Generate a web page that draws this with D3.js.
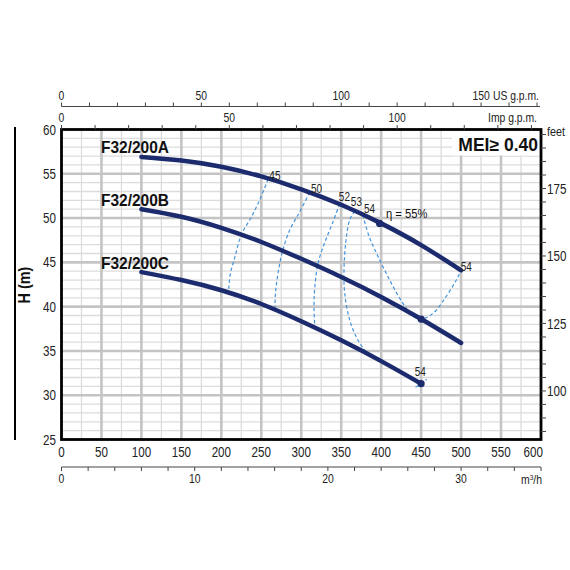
<!DOCTYPE html>
<html>
<head>
<meta charset="utf-8">
<script src="https://cdn.jsdelivr.net/npm/d3@7"></script>
<style>
  html, body { margin: 0; padding: 0; background: #fff; }
  svg { display: block; }
  text { font-family: "Liberation Sans", Arial, sans-serif; }
</style>
</head>
<body>
<svg id="chart" width="570" height="570"></svg>
<script>
// ---------------- data ----------------
// flow in l/min, head in m
const flowAB = [100, 150, 200, 250, 300, 350, 400, 450, 500];
const headA  = [56.9, 56.5, 55.8, 54.7, 53.25, 51.5, 49.4, 46.95, 44.1];
const headB  = [51.0, 50.15, 48.9, 47.3, 45.4, 43.35, 41.1, 38.6, 35.9];
const flowC  = [100, 150, 200, 250, 300, 350, 400, 450];
const headC  = [43.9, 43.0, 41.85, 40.3, 38.35, 36.2, 33.85, 31.3];
const pumpNames = ["F32/200A", "F32/200B", "F32/200C"];

// iso-efficiency curves [flow, head]
const eff45 = [[258.5,54.4],[248,52.05],[237.7,50.15],[225,48.1],[217,45.6],[211.5,43.8],[209,41.75]];
const eff50 = [[310.6,52.9],[298,50.7],[285.6,48.65],[277,46.4],[271,43.8],[267.7,41.5],[267,39.7]];
const eff52 = [[348,51.6],[339,49.4],[329,47.15],[321,44.9],[317,42.25],[316,40.0],[317,37.65]];
const eff53 = [[367,50.8],[360.6,49.8],[355.6,47.15],[353.5,44.1],[354.4,41.5],[360.6,38.5],[371,36.2],[383.5,34.6]];
const eff54 = [[377,50.35],[385,47.9],[398,45.3],[413,42.6],[427,40.4],[439.5,38.95],[450,38.6],[465,39.25],[481,41.1],[494,43.0],[500,44.1]];
const eff54c = [[443,30.9],[450,31.3],[457,31.8]];
const effLabels = [
  {t:"45", q:267, h:54.75}, {t:"50", q:319, h:53.3}, {t:"52", q:354, h:52.4},
  {t:"53", q:369, h:51.8}, {t:"54", q:385.5, h:51.1}, {t:"54", q:506.5, h:44.5},
  {t:"54", q:449, h:32.65}
];
const bepPoints = [[398,49.4],[450,38.6],[450,31.3]];
const etaLabel = {t:"η = 55%", q:406, h:50.6};
const meiText = "MEI≥ 0.40";

// axes
const qTicks = [0,50,100,150,200,250,300,350,400,450,500,550,600];
const hTicks = [25,30,35,40,45,50,55,60];
const feetTicks = [100,125,150,175];
const m3hTicks = [0,10,20,30];
const usTicks = [0,50,100,150];
const impTicks = [0,50,100];
const US_PER_LMIN = 1/3.5, IMP_PER_LMIN = 1/4.2, FT_PER_M = 3.28084, M3H_PER_LMIN = 0.06;

// ---------------- layout ----------------
const L = 61.5, T = 129.5, R = 541, B = 439.5;
const SX = 0.83; // condensed look
const svg = d3.select("#chart");
const x = d3.scaleLinear().domain([0, 600]).range([L, R]);
const y = d3.scaleLinear().domain([25, 60]).range([B, T]);
const xUS = d3.scaleLinear().domain([0, 600*US_PER_LMIN]).range([L, R]);
const xImp = d3.scaleLinear().domain([0, 600*IMP_PER_LMIN]).range([L, R]);
const xM3 = d3.scaleLinear().domain([0, 600*M3H_PER_LMIN]).range([L, R]);
const yFt = d3.scaleLinear().domain([25*FT_PER_M, 60*FT_PER_M]).range([B, T]);
const tr = (px, py) => `translate(${px},${py}) scale(${SX},1)`;

svg.append("rect").attr("width",570).attr("height",570).attr("fill","#fff");

// grid
const g = svg.append("g");
g.selectAll(".vmin").data(d3.range(25, 600, 50)).join("line")
  .attr("x1", d=>x(d)).attr("x2", d=>x(d)).attr("y1", T).attr("y2", B)
  .attr("stroke", "#dcdcdc").attr("stroke-width", 1.3);
g.selectAll(".hmin").data(d3.range(26, 60, 1).filter(d=>d%5)).join("line")
  .attr("x1", L).attr("x2", R).attr("y1", d=>y(d)).attr("y2", d=>y(d))
  .attr("stroke", "#dcdcdc").attr("stroke-width", 1.3);
g.selectAll(".vmaj").data(d3.range(50, 600, 50)).join("line")
  .attr("x1", d=>x(d)).attr("x2", d=>x(d)).attr("y1", T).attr("y2", B)
  .attr("stroke", "#c4c4c4").attr("stroke-width", 2.6);
g.selectAll(".hmaj").data(d3.range(30, 60, 5)).join("line")
  .attr("x1", L).attr("x2", R).attr("y1", d=>y(d)).attr("y2", d=>y(d))
  .attr("stroke", "#c4c4c4").attr("stroke-width", 2.6);

// MEI box
svg.append("rect").attr("x", 452).attr("y", T).attr("width", R-452).attr("height", 26).attr("fill", "#fff");
svg.append("text").attr("x", 538).attr("y", 150.5).attr("text-anchor","end")
  .attr("font-weight","bold").attr("font-size", 17.5).attr("fill","#111").text(meiText);

// frame
svg.append("rect").attr("x", L).attr("y", T).attr("width", R-L).attr("height", B-T)
  .attr("fill","none").attr("stroke","#000").attr("stroke-width", 2.8);

// left axis labels
svg.append("g").selectAll("text").data(hTicks).join("text")
  .attr("transform", d=>tr(56, y(d))).attr("dy","0.36em").attr("text-anchor","end")
  .attr("font-size", 14).attr("fill","#222").text(d=>d);
svg.append("line").attr("x1",15).attr("x2",15).attr("y1",127).attr("y2",440)
  .attr("stroke","#000").attr("stroke-width",2);
svg.append("text").attr("transform","translate(30,285) rotate(-90) scale(0.9,1)").attr("text-anchor","middle")
  .attr("font-weight","bold").attr("font-size",16).attr("fill","#111").text("H (m)");

// bottom l/min labels
svg.append("g").selectAll("text").data(qTicks).join("text")
  .attr("transform", (d,i)=> tr(i===qTicks.length-1 ? x(d)+2 : x(d), 457))
  .attr("text-anchor", (d,i)=> i===qTicks.length-1 ? "end" : "middle")
  .attr("font-size", 14).attr("fill","#222").text(d=>d);

// m3/h axis
const m3 = svg.append("g");
m3.append("line").attr("x1",L).attr("x2",R).attr("y1",467).attr("y2",467).attr("stroke","#444").attr("stroke-width",1);
m3.selectAll(".t").data(d3.range(0, 36.01, 2)).join("line")
  .attr("x1", d=>xM3(d)).attr("x2", d=>xM3(d)).attr("y1",467).attr("y2",471)
  .attr("stroke","#444").attr("stroke-width",1);
m3.selectAll(".l").data(m3hTicks).join("text")
  .attr("transform", d=>tr(xM3(d), 483)).attr("text-anchor","middle")
  .attr("font-size", 12.5).attr("fill","#222").text(d=>d);
m3.append("text").attr("transform", tr(542, 484)).attr("text-anchor","end")
  .attr("font-size", 12.5).attr("fill","#222").html("m<tspan dy='-4' font-size='8'>3</tspan><tspan dy='4'>/h</tspan>");

// US gpm axis
const us = svg.append("g");
us.append("line").attr("x1",L).attr("x2",R-1).attr("y1",106.5).attr("y2",106.5).attr("stroke","#444").attr("stroke-width",1);
us.selectAll(".t").data(d3.range(0, 171, 10)).join("line")
  .attr("x1", d=>xUS(d)).attr("x2", d=>xUS(d)).attr("y1",106.5).attr("y2",102.5)
  .attr("stroke","#444").attr("stroke-width",1);
us.selectAll(".l").data(usTicks).join("text")
  .attr("transform", d=>tr(xUS(d), 100)).attr("text-anchor","middle")
  .attr("font-size", 12.5).attr("fill","#222").text(d=>d);
us.append("text").attr("transform", tr(539, 100)).attr("text-anchor","end")
  .attr("font-size", 12.5).attr("fill","#222").text("US g.p.m.");

// Imp gpm axis (on top of frame)
const imp = svg.append("g");
imp.selectAll(".t").data(d3.range(0, 142, 10)).join("line")
  .attr("x1", d=>xImp(d)).attr("x2", d=>xImp(d)).attr("y1",T).attr("y2",T-4.5)
  .attr("stroke","#444").attr("stroke-width",1);
imp.selectAll(".l").data(impTicks).join("text")
  .attr("transform", d=>tr(xImp(d), 122)).attr("text-anchor","middle")
  .attr("font-size", 12.5).attr("fill","#222").text(d=>d);
imp.append("text").attr("transform", tr(537, 122)).attr("text-anchor","end")
  .attr("font-size", 12.5).attr("fill","#222").text("Imp g.p.m.");

// feet axis
const ft = svg.append("g");
ft.selectAll(".t").data(d3.range(85, 196, 5)).join("line")
  .attr("x1", R).attr("x2", R+5).attr("y1", d=>yFt(d)).attr("y2", d=>yFt(d))
  .attr("stroke","#444").attr("stroke-width",1);
ft.selectAll(".l").data(feetTicks).join("text")
  .attr("transform", d=>tr(R+6, yFt(d))).attr("dy","0.36em")
  .attr("font-size", 14).attr("fill","#222").text(d=>d);
ft.append("text").attr("transform", tr(R+6, yFt(195))).attr("dy","0.1em")
  .attr("font-size", 13).attr("fill","#222").text("feet");

// iso-efficiency dashed curves
const effLine = d3.line().x(d=>x(d[0])).y(d=>y(d[1])).curve(d3.curveCatmullRom.alpha(0.5));
svg.append("g").selectAll("path").data([eff45, eff50, eff52, eff53, eff54, eff54c]).join("path")
  .attr("d", effLine).attr("fill","none").attr("stroke","#4594dc")
  .attr("stroke-width",1.2).attr("stroke-dasharray","3.5,2.5");

// pump curves
const pumpLine = d3.line().x(d=>x(d[0])).y(d=>y(d[1])).curve(d3.curveNatural);
const curves = [d3.zip(flowAB, headA), d3.zip(flowAB, headB), d3.zip(flowC, headC)];
svg.append("g").selectAll("path").data(curves).join("path")
  .attr("d", pumpLine).attr("fill","none").attr("stroke","#1c2b6e")
  .attr("stroke-width",4.5).attr("stroke-linecap","round");
svg.append("g").selectAll("circle").data(bepPoints).join("circle")
  .attr("cx", d=>x(d[0])).attr("cy", d=>y(d[1])).attr("r", 3.6).attr("fill","#1c2b6e");

// pump names
svg.append("g").selectAll("text").data(curves).join("text")
  .attr("x", 101).attr("y", d=>y(d[0][1]) - 3.5)
  .attr("font-weight","bold").attr("font-size", 16.5)
  .attr("textLength", 68).attr("lengthAdjust","spacingAndGlyphs")
  .attr("fill","#111").text((d,i)=>pumpNames[i]);

// efficiency labels
svg.append("g").selectAll("text").data(effLabels).join("text")
  .attr("transform", d=>tr(x(d.q), y(d.h))).attr("dy","0.36em").attr("text-anchor","middle")
  .attr("font-size", 12).attr("fill","#222").text(d=>d.t);
svg.append("text").attr("transform", tr(x(etaLabel.q), y(etaLabel.h))).attr("dy","0.36em")
  .attr("font-size", 13.5).attr("fill","#111").text(etaLabel.t);
</script>
</body>
</html>
